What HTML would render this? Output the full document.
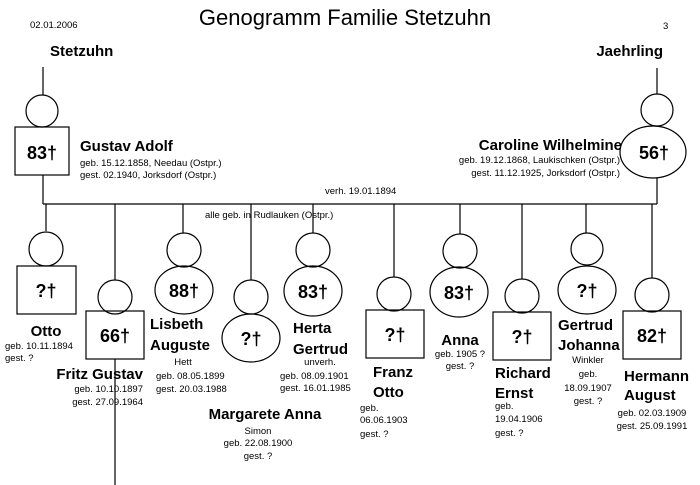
<!DOCTYPE html>
<html><head><meta charset="utf-8"><style>
html,body{margin:0;padding:0;background:#fff;width:700px;height:485px;overflow:hidden}
svg{display:block}
text{font-family:"Liberation Sans",sans-serif;fill:#000}
.n{font-weight:bold;font-size:15px}
.s{font-size:9.5px}
.a{font-size:18px;font-weight:bold}
</style></head><body>
<svg width="700" height="485" viewBox="0 0 700 485" fill="none" stroke="#000" stroke-width="1.2">
<text x="345" y="25" text-anchor="middle" style="font-size:22px" stroke="none">Genogramm Familie Stetzuhn</text>
<text x="30" y="28" class="s" stroke="none">02.01.2006</text>
<text x="663" y="29" class="s" stroke="none">3</text>
<text x="50" y="56" class="n" stroke="none">Stetzuhn</text>
<text x="663" y="56" class="n" text-anchor="end" stroke="none">Jaehrling</text>

<!-- parents -->
<line x1="43" y1="67" x2="43" y2="95"/>
<circle cx="42" cy="111" r="16"/>
<rect x="15" y="127" width="54" height="48"/>
<text x="42" y="159" class="a" text-anchor="middle" stroke="none">83†</text>
<line x1="43" y1="175" x2="43" y2="204"/>
<line x1="43" y1="204" x2="657" y2="204"/>
<text x="80" y="151" class="n" stroke="none">Gustav Adolf</text>
<text x="80" y="166" class="s" stroke="none">geb. 15.12.1858, Needau (Ostpr.)</text>
<text x="80" y="178" class="s" stroke="none">gest. 02.1940, Jorksdorf (Ostpr.)</text>

<line x1="657" y1="68" x2="657" y2="94"/>
<circle cx="657" cy="110" r="16"/>
<ellipse cx="653" cy="152" rx="33" ry="26"/>
<text x="654" y="159" class="a" text-anchor="middle" stroke="none">56†</text>
<line x1="657" y1="178" x2="657" y2="204"/>
<text x="622" y="150" class="n" text-anchor="end" stroke="none">Caroline Wilhelmine</text>
<text x="620" y="163" class="s" text-anchor="end" stroke="none">geb. 19.12.1868, Laukischken (Ostpr.)</text>
<text x="620" y="176" class="s" text-anchor="end" stroke="none">gest. 11.12.1925, Jorksdorf (Ostpr.)</text>
<text x="325" y="194" class="s" stroke="none">verh. 19.01.1894</text>
<text x="205" y="218" class="s" stroke="none">alle geb. in Rudlauken (Ostpr.)</text>

<!-- Otto -->
<line x1="46" y1="204" x2="46" y2="231"/>
<circle cx="46" cy="249" r="17"/>
<rect x="17" y="266" width="59" height="48"/>
<text x="46" y="297" class="a" text-anchor="middle" stroke="none">?†</text>
<text x="46" y="336" class="n" text-anchor="middle" stroke="none">Otto</text>
<text x="5" y="349" class="s" stroke="none">geb. 10.11.1894</text>
<text x="5" y="361" class="s" stroke="none">gest. ?</text>

<!-- Fritz -->
<line x1="115" y1="204" x2="115" y2="280"/>
<circle cx="115" cy="297" r="17"/>
<rect x="86" y="311" width="58" height="48"/>
<text x="115" y="342" class="a" text-anchor="middle" stroke="none">66†</text>
<line x1="115" y1="359" x2="115" y2="485"/>
<text x="143" y="379" class="n" text-anchor="end" stroke="none">Fritz Gustav</text>
<text x="143" y="392" class="s" text-anchor="end" stroke="none">geb. 10.10.1897</text>
<text x="143" y="405" class="s" text-anchor="end" stroke="none">gest. 27.09.1964</text>

<!-- Lisbeth -->
<line x1="183" y1="204" x2="183" y2="233"/>
<circle cx="184" cy="250" r="17"/>
<ellipse cx="184" cy="290" rx="29" ry="24"/>
<text x="184" y="297" class="a" text-anchor="middle" stroke="none">88†</text>
<text x="150" y="329" class="n" stroke="none">Lisbeth</text>
<text x="150" y="350" class="n" stroke="none">Auguste</text>
<text x="183" y="365" class="s" text-anchor="middle" stroke="none">Hett</text>
<text x="156" y="379" class="s" stroke="none">geb. 08.05.1899</text>
<text x="156" y="392" class="s" stroke="none">gest. 20.03.1988</text>

<!-- Margarete -->
<line x1="251" y1="204" x2="251" y2="280"/>
<circle cx="251" cy="297" r="17"/>
<ellipse cx="251" cy="338" rx="29" ry="24"/>
<text x="251" y="345" class="a" text-anchor="middle" stroke="none">?†</text>
<text x="265" y="419" class="n" text-anchor="middle" stroke="none">Margarete Anna</text>
<text x="258" y="434" class="s" text-anchor="middle" stroke="none">Simon</text>
<text x="258" y="446" class="s" text-anchor="middle" stroke="none">geb. 22.08.1900</text>
<text x="258" y="459" class="s" text-anchor="middle" stroke="none">gest. ?</text>

<!-- Herta -->
<line x1="313" y1="204" x2="313" y2="233"/>
<circle cx="313" cy="250" r="17"/>
<ellipse cx="313" cy="291" rx="29" ry="25"/>
<text x="313" y="298" class="a" text-anchor="middle" stroke="none">83†</text>
<text x="293" y="333" class="n" stroke="none">Herta</text>
<text x="293" y="354" class="n" stroke="none">Gertrud</text>
<text x="320" y="365" class="s" text-anchor="middle" stroke="none">unverh.</text>
<text x="280" y="379" class="s" stroke="none">geb. 08.09.1901</text>
<text x="280" y="391" class="s" stroke="none">gest. 16.01.1985</text>

<!-- Franz -->
<line x1="394" y1="204" x2="394" y2="277"/>
<circle cx="394" cy="294" r="17"/>
<rect x="366" y="310" width="58" height="48"/>
<text x="395" y="341" class="a" text-anchor="middle" stroke="none">?†</text>
<text x="373" y="377" class="n" stroke="none">Franz</text>
<text x="373" y="397" class="n" stroke="none">Otto</text>
<text x="360" y="411" class="s" stroke="none">geb.</text>
<text x="360" y="423" class="s" stroke="none">06.06.1903</text>
<text x="360" y="437" class="s" stroke="none">gest. ?</text>

<!-- Anna -->
<line x1="460" y1="204" x2="460" y2="234"/>
<circle cx="460" cy="251" r="17"/>
<ellipse cx="459" cy="292" rx="29" ry="25"/>
<text x="459" y="299" class="a" text-anchor="middle" stroke="none">83†</text>
<text x="460" y="345" class="n" text-anchor="middle" stroke="none">Anna</text>
<text x="460" y="357" class="s" text-anchor="middle" stroke="none">geb. 1905 ?</text>
<text x="460" y="369" class="s" text-anchor="middle" stroke="none">gest. ?</text>

<!-- Richard -->
<line x1="522" y1="204" x2="522" y2="279"/>
<circle cx="522" cy="296" r="17"/>
<rect x="493" y="312" width="58" height="48"/>
<text x="522" y="343" class="a" text-anchor="middle" stroke="none">?†</text>
<text x="495" y="378" class="n" stroke="none">Richard</text>
<text x="495" y="398" class="n" stroke="none">Ernst</text>
<text x="495" y="409" class="s" stroke="none">geb.</text>
<text x="495" y="422" class="s" stroke="none">19.04.1906</text>
<text x="495" y="436" class="s" stroke="none">gest. ?</text>

<!-- Gertrud -->
<line x1="586" y1="204" x2="586" y2="233"/>
<circle cx="587" cy="249" r="16"/>
<ellipse cx="587" cy="290" rx="29" ry="24"/>
<text x="587" y="297" class="a" text-anchor="middle" stroke="none">?†</text>
<text x="558" y="330" class="n" stroke="none">Gertrud</text>
<text x="558" y="350" class="n" stroke="none">Johanna</text>
<text x="588" y="363" class="s" text-anchor="middle" stroke="none">Winkler</text>
<text x="588" y="377" class="s" text-anchor="middle" stroke="none">geb.</text>
<text x="588" y="391" class="s" text-anchor="middle" stroke="none">18.09.1907</text>
<text x="588" y="404" class="s" text-anchor="middle" stroke="none">gest. ?</text>

<!-- Hermann -->
<line x1="652" y1="204" x2="652" y2="278"/>
<circle cx="652" cy="295" r="17"/>
<rect x="623" y="311" width="58" height="48"/>
<text x="652" y="342" class="a" text-anchor="middle" stroke="none">82†</text>
<text x="624" y="381" class="n" stroke="none">Hermann</text>
<text x="624" y="400" class="n" stroke="none">August</text>
<text x="652" y="416" class="s" text-anchor="middle" stroke="none">geb. 02.03.1909</text>
<text x="652" y="429" class="s" text-anchor="middle" stroke="none">gest. 25.09.1991</text>
</svg>
</body></html>
